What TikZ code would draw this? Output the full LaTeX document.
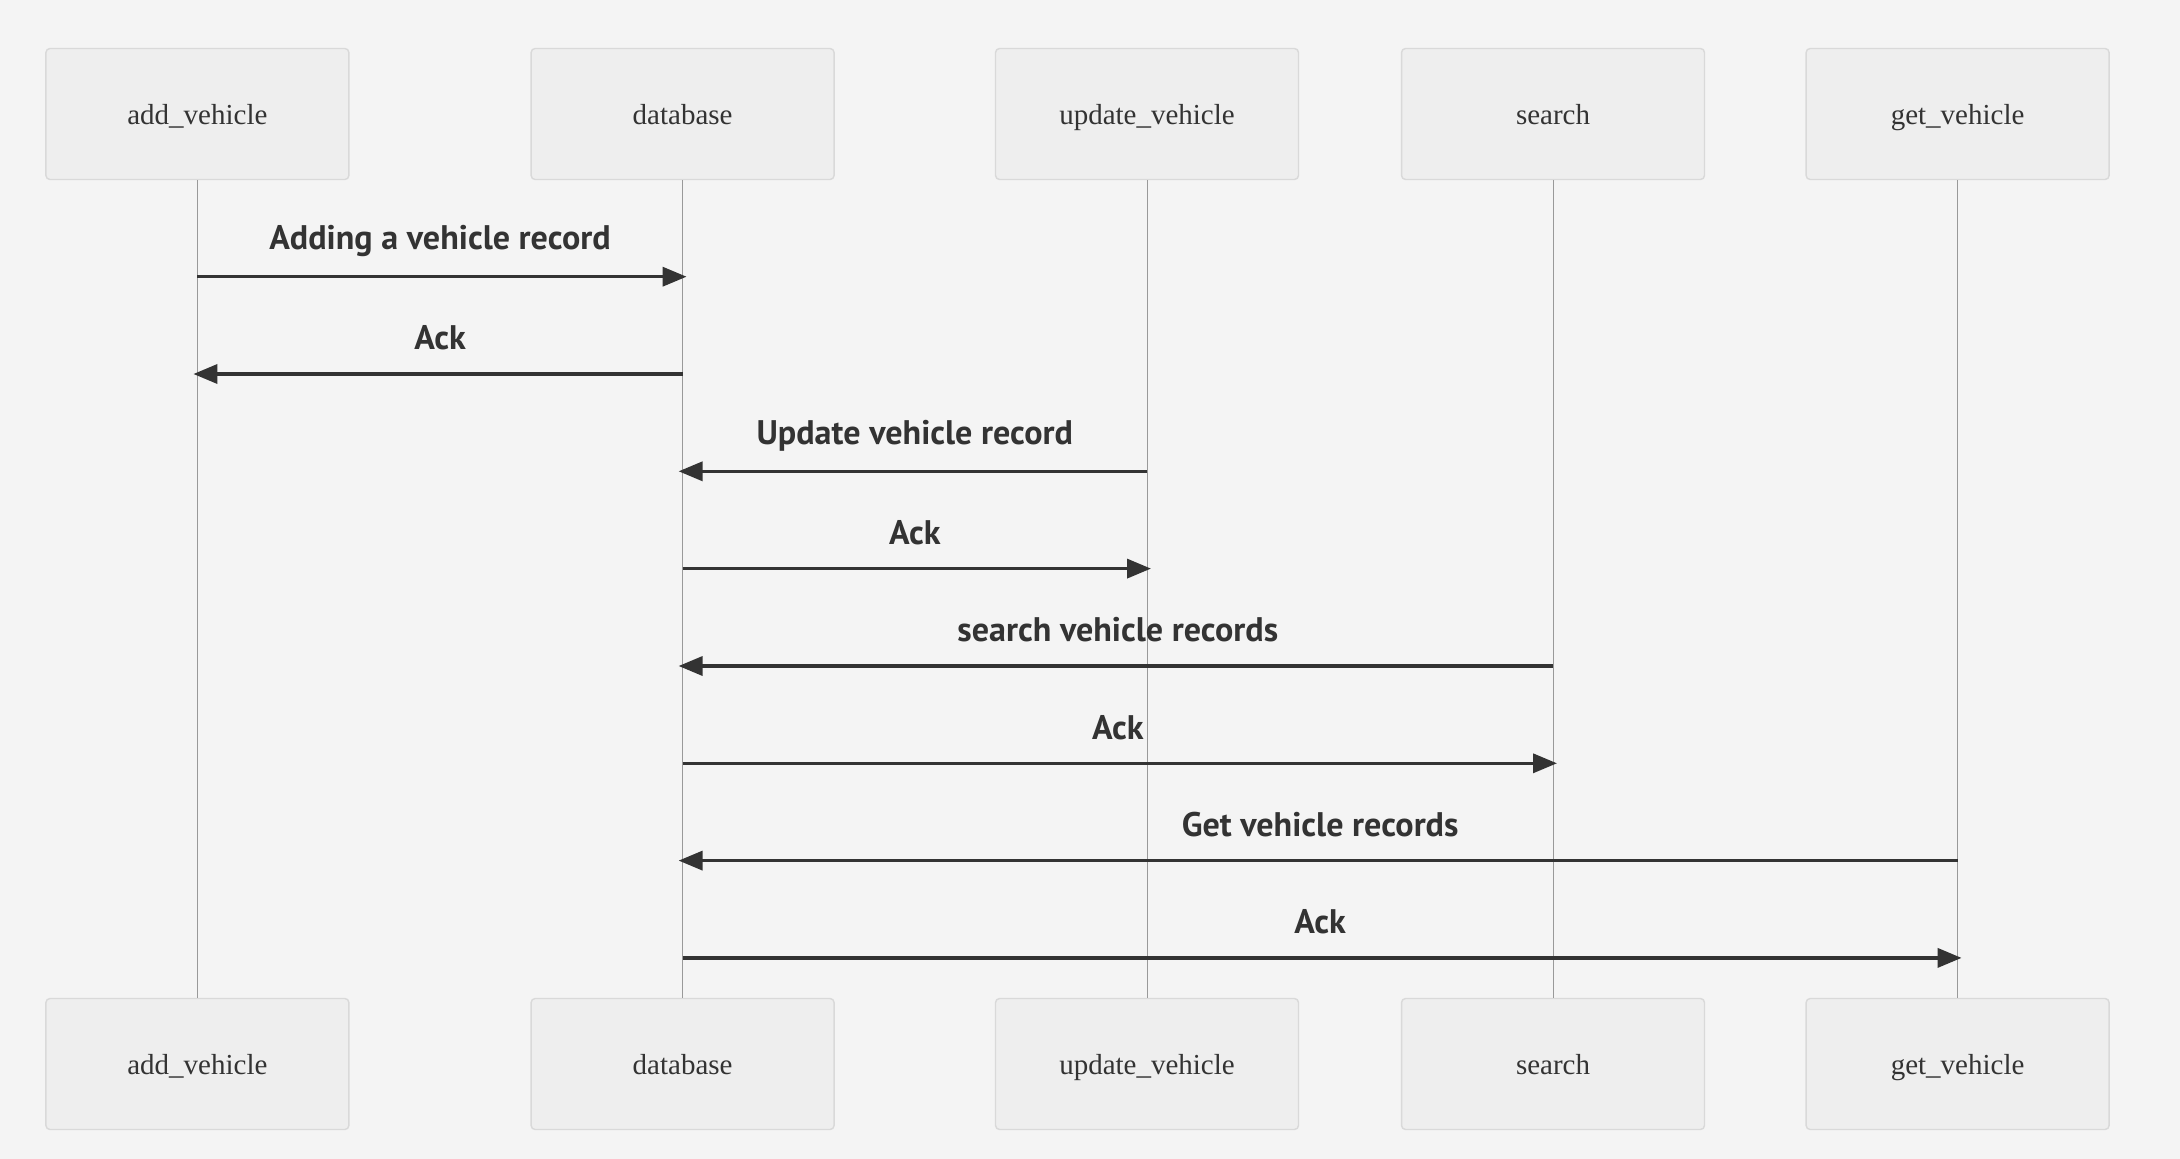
\documentclass[tikz,border=0pt]{standalone}
\usepackage{fontspec}
\setmainfont{Liberation Serif}
\newfontfamily\msgfont{PT Sans}
\usetikzlibrary{arrows.meta, calc, positioning}

\definecolor{bgcol}{HTML}{F4F4F4}
\definecolor{boxfill}{HTML}{EEEEEE}
\definecolor{boxline}{HTML}{D9D9D9}
\definecolor{lifecol}{HTML}{999999}
\definecolor{inkcol}{HTML}{333333}

\tikzset{
	actor/.style={draw=boxline, line width=0.8pt, fill=boxfill, rounded corners=0.08cm,
		minimum width=6.06cm, minimum height=2.62cm, inner sep=0pt,
		text height=3.1ex, text depth=0.5ex,
		text=inkcol, font=\fontsize{16.5}{19}\selectfont},
	lifeline/.style={draw=lifecol, line width=0.5pt},
	msgline/.style={draw=inkcol, line width=2pt, -{Triangle[length=0.48cm,width=0.38cm]}},
	msglabel/.style={text=inkcol, font=\msgfont\bfseries\fontsize{19.4}{22}\selectfont}
}

\begin{document}
\begin{tikzpicture}[x=0.02cm, y=-0.02cm]
	\fill[bgcol] (0,0) rectangle (2180,1159);
	
	\coordinate (Top) at (0,114);
	\coordinate (Bot) at (0,1064);
	
	\node[actor] (addT) at (197.4,114)  {add\_vehicle};
	\node[actor] (dbT)  at (682.6,114)  {database};
	\node[actor] (updT) at (1147,114)   {update\_vehicle};
	\node[actor] (srchT) at (1553,114)  {search};
	\node[actor] (getT) at (1957.6,114) {get\_vehicle};
	
	\node[actor] (addB) at (addT |- Bot)  {add\_vehicle};
	\node[actor] (dbB)  at (dbT |- Bot)   {database};
	\node[actor] (updB) at (updT |- Bot)  {update\_vehicle};
	\node[actor] (srchB) at (srchT |- Bot) {search};
	\node[actor] (getB) at (getT |- Bot)  {get\_vehicle};
	
	\draw[lifeline] (addT) -- (addB);
	\draw[lifeline] (dbT) -- (dbB);
	\draw[lifeline] (updT) -- (updB);
	\draw[lifeline] (srchT) -- (srchB);
	\draw[lifeline] (getT) -- (getB);
	
	\coordinate (M1) at (0,276.7);
	\coordinate (M2) at (0,374);
	\coordinate (M3) at (0,471.3);
	\coordinate (M4) at (0,568.6);
	\coordinate (M5) at (0,666);
	\coordinate (M6) at (0,763.3);
	\coordinate (M7) at (0,860.6);
	\coordinate (M8) at (0,957.9);
	
	\draw[msgline] (addT |- M1) -- ($(dbT |- M1)+(4,0)$);
	\draw[msgline] (dbT |- M2) -- ($(addT |- M2)-(4,0)$);
	\draw[msgline] (updT |- M3) -- ($(dbT |- M3)-(4,0)$);
	\draw[msgline] (dbT |- M4) -- ($(updT |- M4)+(4,0)$);
	\draw[msgline] (srchT |- M5) -- ($(dbT |- M5)-(4,0)$);
	\draw[msgline] (dbT |- M6) -- ($(srchT |- M6)+(4,0)$);
	\draw[msgline] (getT |- M7) -- ($(dbT |- M7)-(4,0)$);
	\draw[msgline] (dbT |- M8) -- ($(getT |- M8)+(4,0)$);
	
	\node[msglabel] at ($(addT |- M1)!0.5!(dbT |- M1)+(0,-36)$) {Adding a vehicle record};
	\node[msglabel] at ($(addT |- M2)!0.5!(dbT |- M2)+(0,-36)$) {Ack};
	\node[msglabel] at ($(dbT |- M3)!0.5!(updT |- M3)+(0,-36)$) {Update vehicle record};
	\node[msglabel] at ($(dbT |- M4)!0.5!(updT |- M4)+(0,-36)$) {Ack};
	\node[msglabel] at ($(dbT |- M5)!0.5!(srchT |- M5)+(0,-36)$) {search vehicle records};
	\node[msglabel] at ($(dbT |- M6)!0.5!(srchT |- M6)+(0,-36)$) {Ack};
	\node[msglabel] at ($(dbT |- M7)!0.5!(getT |- M7)+(0,-36)$) {Get vehicle records};
	\node[msglabel] at ($(dbT |- M8)!0.5!(getT |- M8)+(0,-36)$) {Ack};
\end{tikzpicture}
\end{document}
